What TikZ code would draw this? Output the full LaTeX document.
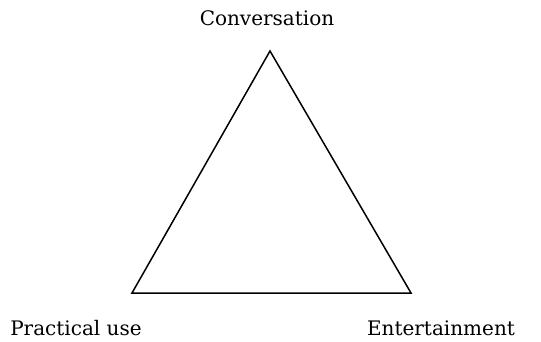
\documentclass[tikz,border=0pt]{standalone}
\usepackage{fontspec}
\setmainfont{DejaVu Serif}
\usetikzlibrary{positioning}

\begin{document}
\begin{tikzpicture}[x=1pt,y=1pt]
 \useasboundingbox (0,0) rectangle (541,341);
 \tikzset{corner/.style={font=\fontsize{20}{24}\selectfont,inner sep=0pt}}
 \coordinate (top) at (270,290);
 \coordinate (left) at (132,48);
 \coordinate (right) at (411,48);
 \draw[black,line width=1.5pt,line join=miter] (top) -- (left) -- (right) -- cycle;
 \node[corner] (conv) at (267,323) {Conversation};
 \node[corner] (prac) at (76,13) {Practical use};
 \node[corner] (ent) at (441,13) {Entertainment};
\end{tikzpicture}
\end{document}
